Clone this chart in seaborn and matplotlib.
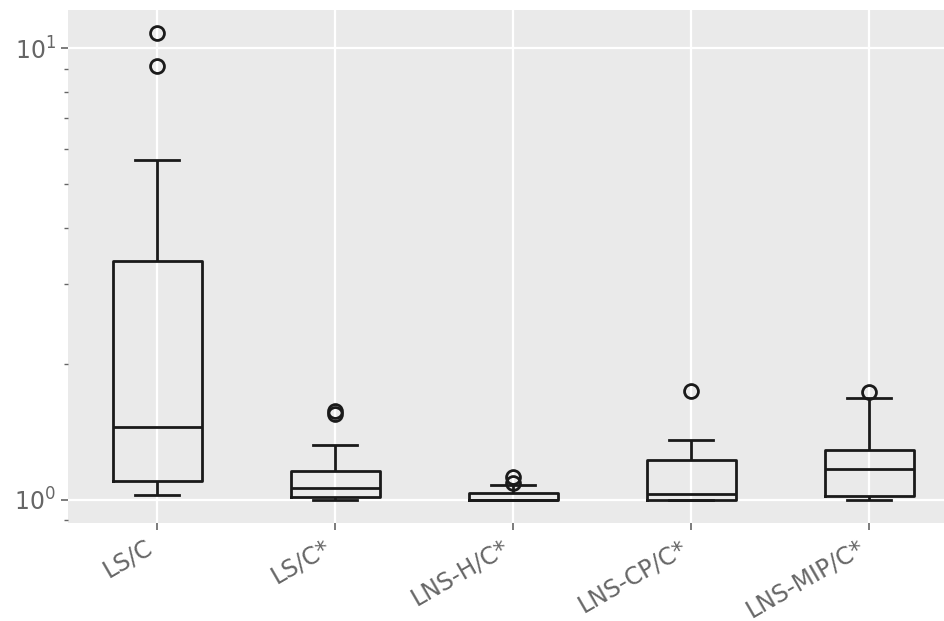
import numpy as np
import pandas as pd
import seaborn as sns
import matplotlib.pyplot as plt
from matplotlib.ticker import NullFormatter

# Ratios of each method's objective to the reference value, per instance
categories = ["LS/C", "LS/C*", "LNS-H/C*", "LNS-CP/C*", "LNS-MIP/C*"]

ls_c = [1.026, 1.05, 1.08, 1.098, 1.20, 1.33, 1.452, 1.90, 2.60, 3.376, 5.668, 9.135, 10.80]
ls_c_star = [1.0, 1.005, 1.01, 1.015, 1.03, 1.045, 1.059, 1.09, 1.12, 1.157, 1.320, 1.551, 1.575]
lns_h = [1.0, 1.0, 1.0, 1.0, 1.0, 1.0, 1.0, 1.005, 1.02, 1.033, 1.076, 1.088, 1.121]
lns_cp = [1.0, 1.0, 1.0, 1.0, 1.01, 1.02, 1.031, 1.08, 1.15, 1.225, 1.28, 1.354, 1.742]
lns_mip = [1.0, 1.005, 1.012, 1.019, 1.06, 1.12, 1.170, 1.20, 1.25, 1.287, 1.45, 1.676, 1.728]

series = [ls_c, ls_c_star, lns_h, lns_cp, lns_mip]
df = pd.DataFrame({
    "method": np.concatenate([[c] * len(s) for c, s in zip(categories, series)]),
    "ratio": np.concatenate(series),
})

line_color = "#1a1a1a"
text_color = "#666666"

fig = plt.figure(figsize=(9.44, 6.21), dpi=100)
ax = fig.add_axes([68 / 944, 98 / 621, 890 / 944, 513 / 621])
ax.set_facecolor("#EAEAEA")

sns.boxplot(
    data=df, x="method", y="ratio", order=categories, ax=ax,
    width=0.5, fill=False, color=line_color, linewidth=2.0, whis=1.5,
    flierprops=dict(marker="o", markersize=10, markerfacecolor="none",
                    markeredgecolor=line_color, markeredgewidth=2.0),
)

# statistics computed on the raw ratios, shown on a log axis
ax.set_yscale("log")
ax.set_xlim(-0.5, 4.5)
ax.yaxis.set_minor_formatter(NullFormatter())

ax.set_xlabel("")
ax.set_ylabel("")
for s in ax.spines.values():
    s.set_visible(False)

ax.grid(True, which="major", color="white", linewidth=1.6)
ax.grid(False, which="minor")
ax.set_axisbelow(True)

ax.tick_params(axis="both", which="major", direction="out", length=5, width=1.2,
               color=text_color, labelcolor=text_color, labelsize=17)
ax.tick_params(axis="x", which="major", pad=4)
ax.tick_params(axis="y", which="minor", direction="out", length=3, width=1,
               color=text_color)
plt.setp(ax.get_xticklabels(), rotation=30, ha="right")

fig.savefig("out.png", dpi=100)
